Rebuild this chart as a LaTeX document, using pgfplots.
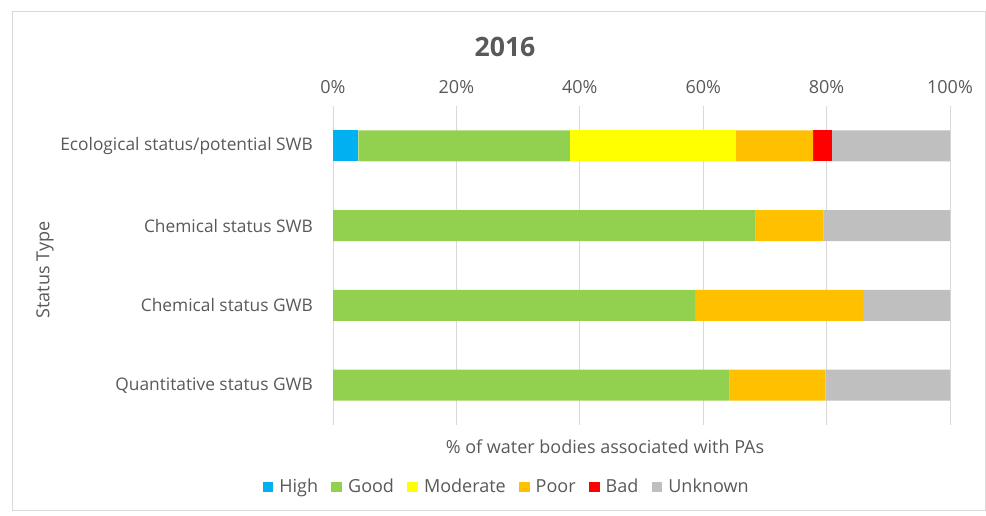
\documentclass[border=0pt]{standalone}
\usepackage{fontspec}
\setmainfont{Open Sans}
\usepackage{pgfplots}
\pgfplotsset{compat=1.18}
\definecolor{cHigh}{HTML}{00B0F0}
\definecolor{cGood}{HTML}{92D050}
\definecolor{cMod}{HTML}{FFFF00}
\definecolor{cPoor}{HTML}{FFC000}
\definecolor{cBad}{HTML}{FF0000}
\definecolor{cUnk}{HTML}{BFBFBF}
\definecolor{txt}{HTML}{595959}
\definecolor{grd}{HTML}{D9D9D9}
\begin{document}
\begin{tikzpicture}[x=0.75pt,y=0.75pt]
\path[use as bounding box] (0,0) rectangle (986,515);
\draw[grd,line width=0.75pt] (12,5) rectangle (985,503);
\node[txt,font=\fontsize{20}{24}\selectfont\bfseries] at (505,468) {2016};
\node[txt,font=\fontsize{13.5}{16}\selectfont] at (605,68) {\% of water bodies associated with PAs};
\node[txt,font=\fontsize{13.5}{16}\selectfont,rotate=90] at (45,245) {Status Type};
\begin{axis}[
  at={(249.75pt,67.5pt)}, anchor=south west,
  scale only axis,
  width=462.75pt, height=239.25pt,
  xbar stacked,
  bar width=23.25pt,
  y dir=reverse,
  xmin=0, xmax=100,
  ymin=-0.5, ymax=3.5,
  ytick={0,1,2,3},
  yticklabels={Ecological status/potential SWB, Chemical status SWB, Chemical status GWB, Quantitative status GWB},
  xtick={0,20,40,60,80,100},
  xticklabels={0\%,20\%,40\%,60\%,80\%,100\%},
  xticklabel pos=upper,
  major tick length=0pt,
  axis line style={draw=none},
  xmajorgrids,
  grid style={grd,line width=0.75pt},
  ticklabel style={txt,font=\fontsize{13.5}{16}\selectfont},
  xticklabel style={yshift=6pt},
  yticklabel style={xshift=-11.5pt,font=\fontsize{13}{16}\selectfont},
  legend columns=6,
  legend style={at={(rel axis cs:0.282,-0.194)}, anchor=center, draw=none,
    font=\fontsize{13.5}{16}\selectfont, text=txt,
    /tikz/every odd column/.append style={column sep=2.5pt},
    /tikz/every even column/.append style={column sep=8pt}},
  legend image code/.code={\fill[#1] (0pt,-4pt) rectangle (8pt,4pt);},
]
\addplot[fill=cHigh,draw=none] coordinates {(4.1,0) (0,1) (0,2) (0,3)};
\addplot[fill=cGood,draw=none] coordinates {(34.3,0) (68.5,1) (58.7,2) (64.3,3)};
\addplot[fill=cMod,draw=none] coordinates {(26.9,0) (0,1) (0,2) (0,3)};
\addplot[fill=cPoor,draw=none] coordinates {(12.5,0) (11.0,1) (27.2,2) (15.5,3)};
\addplot[fill=cBad,draw=none] coordinates {(3.1,0) (0,1) (0,2) (0,3)};
\addplot[fill=cUnk,draw=none] coordinates {(19.1,0) (20.5,1) (14.1,2) (20.2,3)};
\legend{High, Good, Moderate, Poor, Bad, Unknown}
\end{axis}
\end{tikzpicture}
\end{document}
